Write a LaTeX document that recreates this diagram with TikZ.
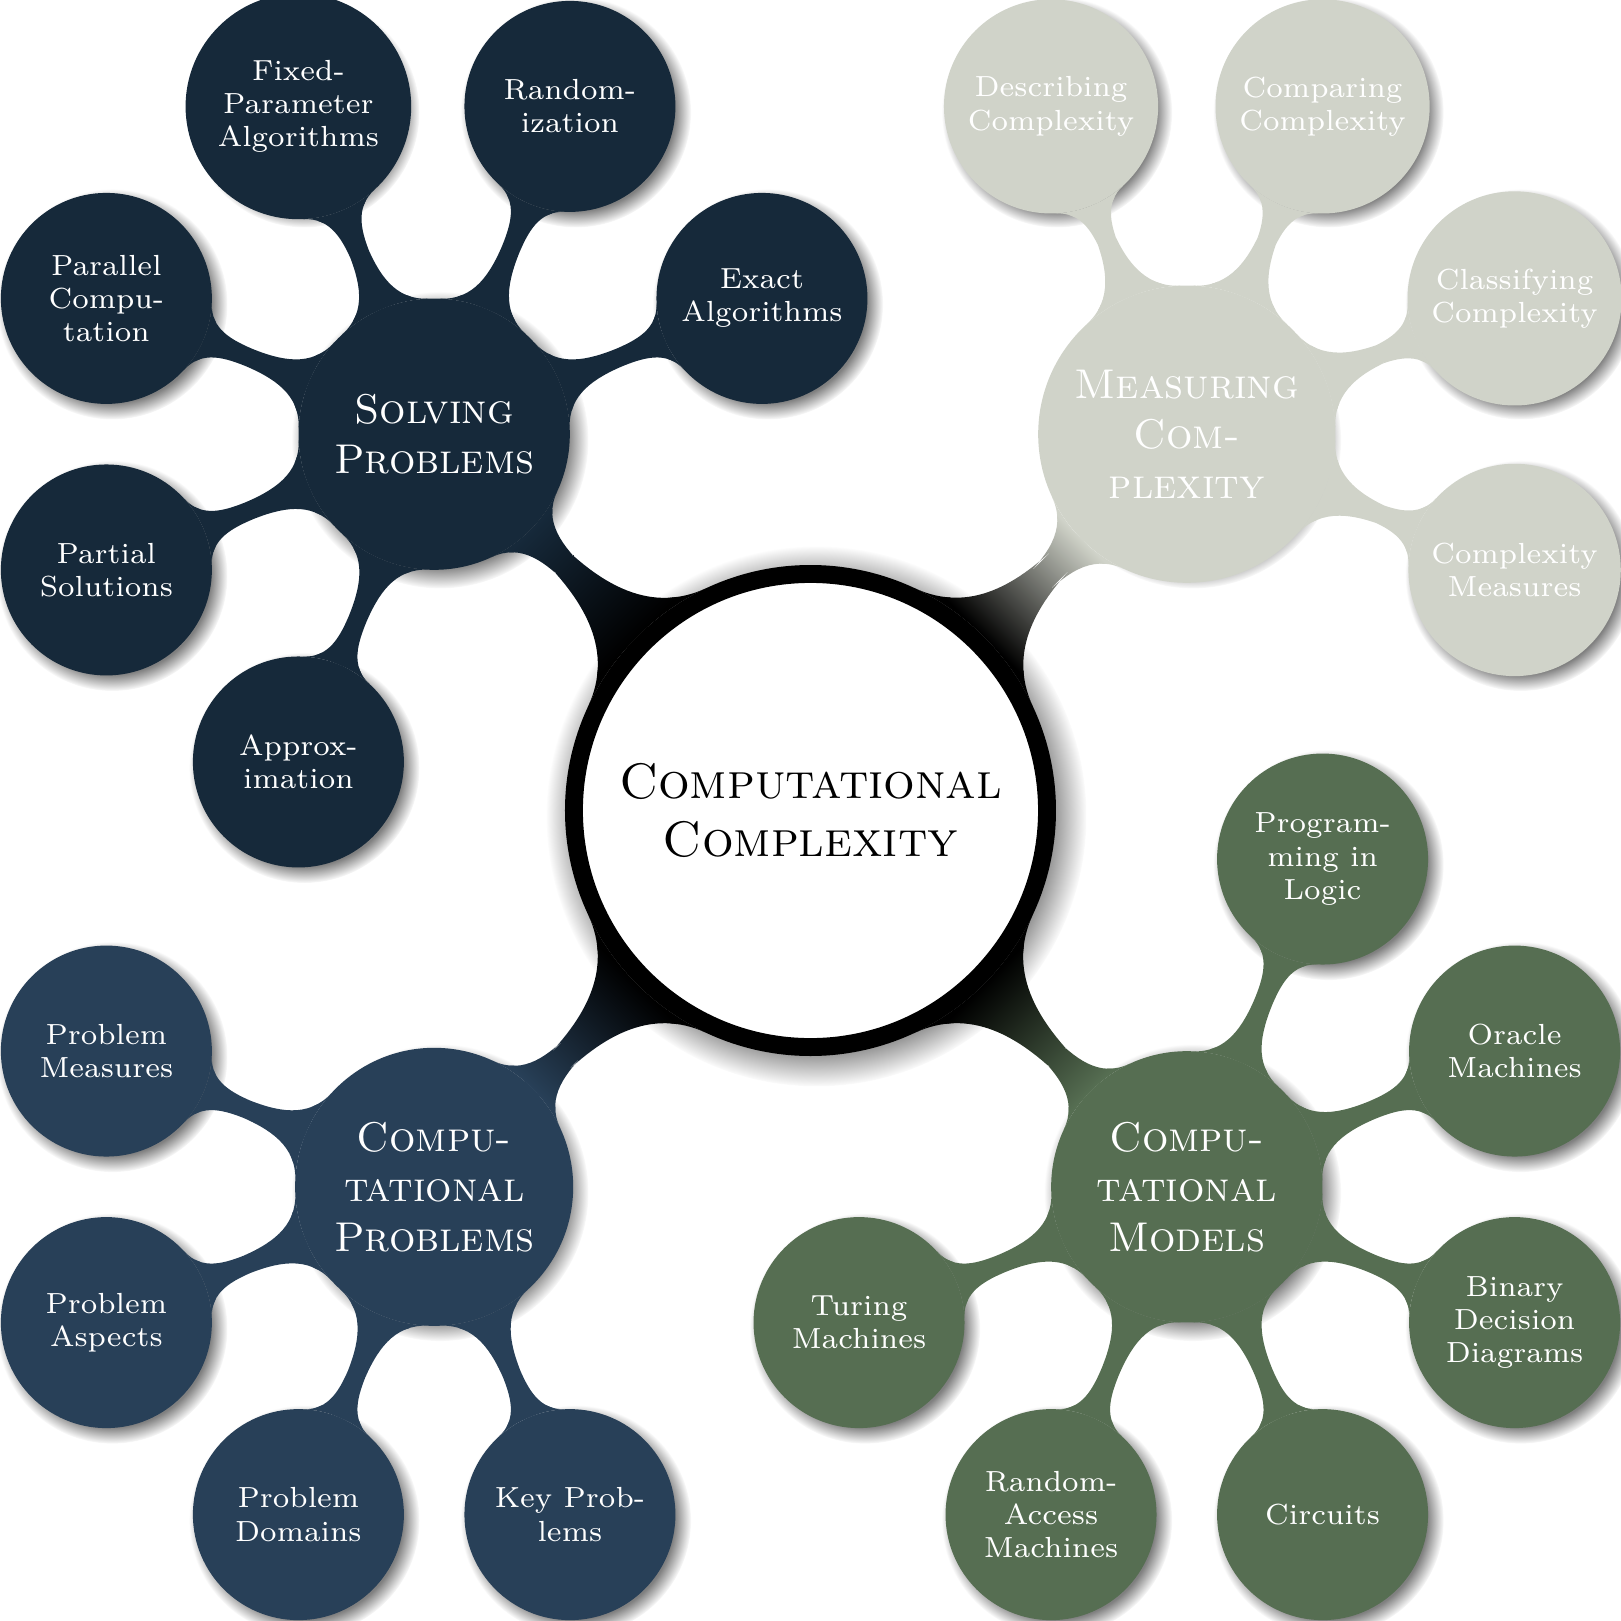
\documentclass[tikz,border=0pt]{standalone}
\usetikzlibrary{mindmap,shadows,backgrounds}

\definecolor{solvingcol}{HTML}{16293A}
\definecolor{problemcol}{HTML}{284058}
\definecolor{measurecol}{HTML}{D0D3C9}
\definecolor{modelcol}{HTML}{566E52}

\begin{document}
\begin{tikzpicture}[
    text=white,
    every node/.style={circle, align=center},
    core/.style={fill=white, draw=black, line width=1ex, minimum size=4cm, text=black, font=\large\scshape},
    topic/.style={fill=#1, draw=#1, line width=0.4pt, minimum size=2.28cm, font=\scshape},
    leaf/.style={fill=#1, draw=#1, line width=0.4pt, minimum size=1.77cm, font=\scriptsize},
    link/.style 2 args={circle connection bar switch color=from (#1) to (#2)}
  ]
    \useasboundingbox (-6.853,-6.853) rectangle (6.853,6.853);

    % Centro
    \node[core] (cc) at (0,0) {Computational\\Complexity};

    % Rami principali
    \node[topic=solvingcol] (solving) at (135:4.5) {Solving\\Problems};
    \node[topic=measurecol] (measuring) at (45:4.5) {Measuring\\Com-\\plexity};
    \node[topic=problemcol] (problems) at (225:4.5) {Compu-\\tational\\Problems};
    \node[topic=modelcol] (models) at (315:4.5) {Compu-\\tational\\Models};

    % Solving Problems
    \node[leaf=solvingcol] (exact) at ([shift={(22.5:3)}]solving) {Exact\\Algorithms};
    \node[leaf=solvingcol] (random) at ([shift={(67.5:3)}]solving) {Random-\\ization};
    \node[leaf=solvingcol] (fpt) at ([shift={(112.5:3)}]solving) {Fixed-\\Parameter\\Algorithms};
    \node[leaf=solvingcol] (parallel) at ([shift={(157.5:3)}]solving) {Parallel\\Compu-\\tation};
    \node[leaf=solvingcol] (partial) at ([shift={(202.5:3)}]solving) {Partial\\Solutions};
    \node[leaf=solvingcol] (approx) at ([shift={(247.5:3)}]solving) {Approx-\\imation};

    % Measuring Complexity
    \node[leaf=measurecol] (describing) at ([shift={(112.5:3)}]measuring) {Describing\\Complexity};
    \node[leaf=measurecol] (comparing) at ([shift={(67.5:3)}]measuring) {Comparing\\Complexity};
    \node[leaf=measurecol] (classifying) at ([shift={(22.5:3)}]measuring) {Classifying\\Complexity};
    \node[leaf=measurecol] (cmeasures) at ([shift={(-22.5:3)}]measuring) {Complexity\\Measures};

    % Computational Problems
    \node[leaf=problemcol] (pmeasures) at ([shift={(157.5:3)}]problems) {Problem\\Measures};
    \node[leaf=problemcol] (aspects) at ([shift={(202.5:3)}]problems) {Problem\\Aspects};
    \node[leaf=problemcol] (domains) at ([shift={(247.5:3)}]problems) {Problem\\Domains};
    \node[leaf=problemcol] (keyprob) at ([shift={(292.5:3)}]problems) {Key Prob-\\lems};

    % Computational Models
    \node[leaf=modelcol] (logic) at ([shift={(67.5:3)}]models) {Program-\\ming in\\Logic};
    \node[leaf=modelcol] (oracle) at ([shift={(22.5:3)}]models) {Oracle\\Machines};
    \node[leaf=modelcol] (bdd) at ([shift={(-22.5:3)}]models) {Binary\\Decision\\Diagrams};
    \node[leaf=modelcol] (circuits) at ([shift={(-67.5:3)}]models) {Circuits};
    \node[leaf=modelcol] (ram) at ([shift={(-112.5:3)}]models) {Random-\\Access\\Machines};
    \node[leaf=modelcol] (turing) at ([shift={(-157.5:3)}]models) {Turing\\Machines};

    \begin{scope}[on background layer]
    % Ombre
    \path[circular drop shadow] (cc.center) circle (2.075);
    \foreach \n in {solving,measuring,problems,models}
      \path[circular drop shadow] (\n.center) circle (1.14);
    \foreach \n in {exact,random,fpt,parallel,partial,approx,describing,comparing,classifying,cmeasures,
                    pmeasures,aspects,domains,keyprob,logic,oracle,bdd,circuits,ram,turing}
      \path[circular drop shadow] (\n.center) circle (0.885);

    % Collegamenti dal centro
    \path (cc) to[link={black}{solvingcol}] (solving);
    \path (cc) to[link={black}{measurecol}] (measuring);
    \path (cc) to[link={black}{problemcol}] (problems);
    \path (cc) to[link={black}{modelcol}] (models);

    % Collegamenti alle foglie
    \path (solving) to[link={solvingcol}{solvingcol}] (exact);
    \path (solving) to[link={solvingcol}{solvingcol}] (random);
    \path (solving) to[link={solvingcol}{solvingcol}] (fpt);
    \path (solving) to[link={solvingcol}{solvingcol}] (parallel);
    \path (solving) to[link={solvingcol}{solvingcol}] (partial);
    \path (solving) to[link={solvingcol}{solvingcol}] (approx);
    \path (measuring) to[link={measurecol}{measurecol}] (describing);
    \path (measuring) to[link={measurecol}{measurecol}] (comparing);
    \path (measuring) to[link={measurecol}{measurecol}] (classifying);
    \path (measuring) to[link={measurecol}{measurecol}] (cmeasures);
    \path (problems) to[link={problemcol}{problemcol}] (pmeasures);
    \path (problems) to[link={problemcol}{problemcol}] (aspects);
    \path (problems) to[link={problemcol}{problemcol}] (domains);
    \path (problems) to[link={problemcol}{problemcol}] (keyprob);
    \path (models) to[link={modelcol}{modelcol}] (logic);
    \path (models) to[link={modelcol}{modelcol}] (oracle);
    \path (models) to[link={modelcol}{modelcol}] (bdd);
    \path (models) to[link={modelcol}{modelcol}] (circuits);
    \path (models) to[link={modelcol}{modelcol}] (ram);
    \path (models) to[link={modelcol}{modelcol}] (turing);
    \end{scope}
\end{tikzpicture}
\end{document}
